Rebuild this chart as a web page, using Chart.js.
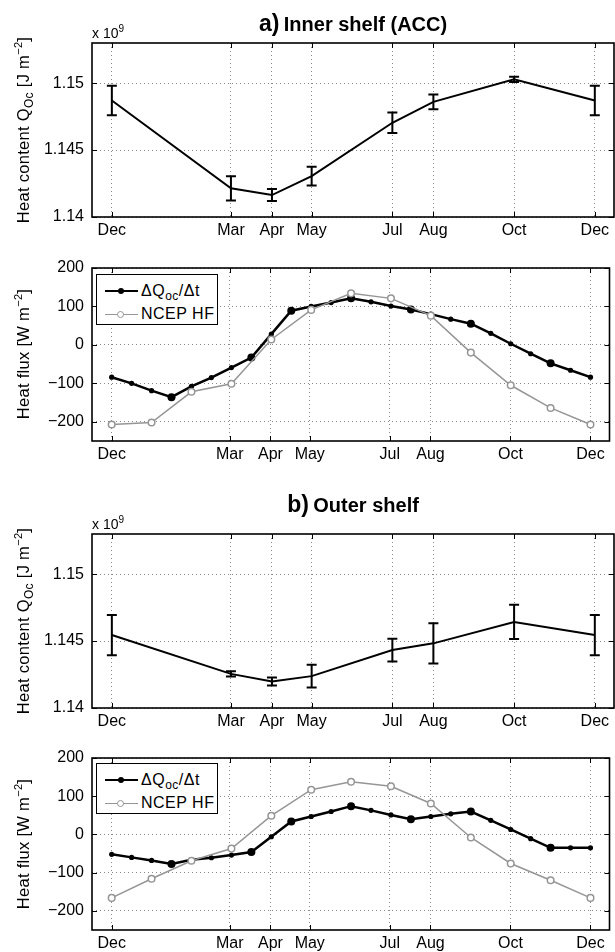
<!DOCTYPE html>
<html>
<head>
<meta charset="utf-8">
<script src="https://cdn.jsdelivr.net/npm/chart.js@4/dist/chart.umd.min.js"></script>
<style>
html,body{margin:0;padding:0;background:#fff;}
body{width:615px;height:952px;overflow:hidden;position:relative;font-family:"Liberation Sans",Arial,Helvetica,sans-serif;color:#000;}
canvas{position:absolute;left:0;}
.title{position:absolute;left:92px;width:522px;text-align:center;font-weight:bold;white-space:nowrap;line-height:26px;height:26px;}
.title .lab{font-size:23px;}
.title .txt{font-size:20px;}
.mult{position:absolute;left:92px;font-size:14px;line-height:16px;white-space:nowrap;}
.mult sup{font-size:10px;vertical-align:6px;line-height:0;}
.ytitle{position:absolute;width:300px;height:20px;line-height:20px;font-size:16.5px;text-align:center;white-space:nowrap;transform:rotate(-90deg);letter-spacing:0.3px;}
.ytitle sub{font-size:12px;vertical-align:-4px;line-height:0;}
.ytitle sup{font-size:11px;vertical-align:7px;line-height:0;}
.legend{position:absolute;width:120px;height:49px;border:1.5px solid #000;background:#fff;}
.legend .row{position:absolute;left:0;width:120px;height:20px;}
.legend .line{position:absolute;left:8px;width:33px;top:10px;height:0;}
.legend .mk{position:absolute;border-radius:50%;}
.legend .t{position:absolute;left:44px;top:0;font-size:16px;line-height:20px;white-space:nowrap;letter-spacing:0.5px;}
.legend .t sub{font-size:12px;vertical-align:-4px;line-height:0;}
</style>
</head>
<body>
<canvas id="c1"></canvas>
<canvas id="c2"></canvas>
<canvas id="c3"></canvas>
<canvas id="c4"></canvas>

<div class="title" style="top:10px;"><span class="lab">a)</span> <span class="txt">Inner shelf (ACC)</span></div>
<div class="mult" style="top:25px;">x 10<sup>9</sup></div>
<div class="ytitle" style="left:-127px;top:120px;">Heat content Q<sub>Oc</sub> [J m<sup>−2</sup>]</div>
<div class="ytitle" style="left:-127px;top:344px;">Heat flux [W m<sup>−2</sup>]</div>

<div class="title" style="top:491px;"><span class="lab">b)</span> <span class="txt">Outer shelf</span></div>
<div class="mult" style="top:516px;">x 10<sup>9</sup></div>
<div class="ytitle" style="left:-127px;top:611px;">Heat content Q<sub>Oc</sub> [J m<sup>−2</sup>]</div>
<div class="ytitle" style="left:-127px;top:834px;">Heat flux [W m<sup>−2</sup>]</div>

<div class="legend" style="left:96px;top:274px;">
  <div class="row" style="top:6px;"><div class="line" style="border-top:2.5px solid #000;top:9px;"></div><div class="mk" style="left:21px;top:7px;width:6px;height:6px;background:#000;"></div><div class="t">ΔQ<sub>oc</sub>/Δt</div></div>
  <div class="row" style="top:29px;"><div class="line" style="border-top:1.5px solid #969696;top:10px;"></div><div class="mk" style="left:20px;top:7px;width:5px;height:5px;background:#fff;border:1.5px solid #969696;"></div><div class="t">NCEP HF</div></div>
</div>
<div class="legend" style="left:96px;top:763px;">
  <div class="row" style="top:6px;"><div class="line" style="border-top:2.5px solid #000;top:9px;"></div><div class="mk" style="left:21px;top:7px;width:6px;height:6px;background:#000;"></div><div class="t">ΔQ<sub>oc</sub>/Δt</div></div>
  <div class="row" style="top:29px;"><div class="line" style="border-top:1.5px solid #969696;top:10px;"></div><div class="mk" style="left:20px;top:7px;width:5px;height:5px;background:#fff;border:1.5px solid #969696;"></div><div class="t">NCEP HF</div></div>
</div>

<script>
// ---------------- DATA ----------------
const monthLabels = ['Dec', 'Mar', 'Apr', 'May', 'Jul', 'Aug', 'Oct', 'Dec'];
const monthDays = [0, 90, 121, 151, 212, 243, 304, 365];

// Heat content (x 10^9 J m^-2) at survey months, with error bar half-widths
const heatInner = [1.1487, 1.14214, 1.14164, 1.14306, 1.14704, 1.1486, 1.15028, 1.1487];
const heatInnerErr = [0.0011, 0.0009, 0.00045, 0.0007, 0.00077, 0.00055, 0.0002, 0.0011];
const heatOuter = [1.14545, 1.14255, 1.14198, 1.14238, 1.14433, 1.14483, 1.14643, 1.14545];
const heatOuterErr = [0.0015, 0.0002, 0.0003, 0.00085, 0.00085, 0.0015, 0.00128, 0.0015];
const heatTicks = [1.14, 1.145, 1.15];

// Heat flux (W m^-2), half-monthly dQ/dt and monthly NCEP
const fluxDays = [0, 15.2, 30.4, 45.6, 60.8, 76.0, 91.3, 106.5, 121.7, 136.9, 152.1, 167.3, 182.5,
                  197.7, 212.9, 228.1, 243.3, 258.5, 273.8, 289.0, 304.2, 319.4, 334.6, 349.8, 365];
const dQInner = [-84, -100, -119, -136, -108, -85, -59, -33, 28, 89, 100, 110, 121,
                 112, 101, 92, 80, 67, 55, 30, 3, -23, -48, -66, -84];
const dQOuter = [-52, -60, -68, -77, -66, -61, -54, -46, -6, 34, 47, 60, 74,
                 63, 51, 40, 47, 54, 60, 37, 13, -11, -35, -35, -35];
const dQComputedIdx = [3, 7, 9, 12, 15, 18, 22]; // points computed between surveys
const ncepDays = [0, 30.4, 60.8, 91.3, 121.7, 152.1, 182.5, 212.9, 243.3, 273.8, 304.2, 334.6, 365];
const ncepInner = [-207, -202, -122, -101, 14, 91, 134, 121, 76, -20, -105, -164, -207];
const ncepOuter = [-166, -116, -69, -37, 49, 117, 138, 126, 81, -8, -76, -120, -166];
const fluxTicks = [-200, -100, 0, 100, 200];

// ---------------- PLUGINS ----------------
const errorBars = {
  id: 'errorBars',
  afterDatasetsDraw(chart) {
    const {ctx, scales: {x, y}} = chart;
    chart.data.datasets.forEach(ds => {
      if (!ds.errors) return;
      ctx.save();
      ctx.strokeStyle = '#000';
      ctx.lineWidth = 2;
      ds.data.forEach((p, i) => {
        const px = x.getPixelForValue(p.x);
        const yl = y.getPixelForValue(p.y - ds.errors[i]);
        const yh = y.getPixelForValue(p.y + ds.errors[i]);
        ctx.beginPath();
        ctx.moveTo(px, yl); ctx.lineTo(px, yh);
        ctx.moveTo(px - 5, yl); ctx.lineTo(px + 5, yl);
        ctx.moveTo(px - 5, yh); ctx.lineTo(px + 5, yh);
        ctx.stroke();
      });
      ctx.restore();
    });
  }
};
const boxTicks = {
  id: 'boxTicks',
  afterDraw(chart) {
    const {ctx, chartArea: a, scales: {x, y}} = chart;
    ctx.save();
    ctx.strokeStyle = '#000';
    ctx.lineWidth = 1;
    ctx.beginPath();
    x.ticks.forEach(t => {
      const px = Math.round(x.getPixelForValue(t.value)) + 0.5;
      ctx.moveTo(px, a.bottom); ctx.lineTo(px, a.bottom - 5);
      ctx.moveTo(px, a.top); ctx.lineTo(px, a.top + 5);
    });
    y.ticks.forEach(t => {
      const py = Math.round(y.getPixelForValue(t.value)) + 0.5;
      ctx.moveTo(a.left, py); ctx.lineTo(a.left + 5, py);
      ctx.moveTo(a.right, py); ctx.lineTo(a.right - 5, py);
    });
    ctx.stroke();
    ctx.lineWidth = 1.6;
    ctx.strokeRect(a.left, a.top, a.right - a.left, a.bottom - a.top);
    ctx.restore();
  }
};

// ---------------- CHART BUILDER ----------------
const tickFont = {family: '"Liberation Sans", Arial, sans-serif', size: 16};
function makeChart(id, plotTop, plotBottom, datasets, yMin, yMax, yTicks, yFmt) {
  const cv = document.getElementById(id);
  const h = Math.round(plotBottom - plotTop) + 68;
  cv.width = 615; cv.height = h;
  cv.style.top = (plotTop - 40) + 'px';
  cv.style.width = '615px'; cv.style.height = h + 'px';
  return new Chart(cv, {
    type: 'line',
    data: {datasets},
    plugins: [errorBars, boxTicks],
    options: {
      responsive: false,
      animation: false,
      devicePixelRatio: 1,
      layout: {padding: {top: 40, right: 1, left: 0, bottom: 0}},
      plugins: {legend: {display: false}, tooltip: {enabled: false}, title: {display: false}},
      scales: {
        x: {
          type: 'linear', min: -15, max: 379.5,
          afterBuildTicks: s => { s.ticks = monthDays.map(v => ({value: v})); },
          afterFit: s => { s.height = 28; },
          ticks: {autoSkip: false, maxRotation: 0, padding: 4, color: '#000', font: tickFont,
                  callback: (v, i) => monthLabels[i]},
          grid: {drawTicks: false, color: '#8a8a8a', lineWidth: 1},
          border: {display: false, dash: [1, 3]}
        },
        y: {
          type: 'linear', min: yMin, max: yMax,
          afterBuildTicks: s => { s.ticks = yTicks.map(v => ({value: v})); },
          afterFit: s => { s.width = 92; },
          ticks: {autoSkip: false, padding: 8, color: '#000', font: tickFont, callback: yFmt},
          grid: {drawTicks: false, color: '#8a8a8a', lineWidth: 1},
          border: {display: false, dash: [1, 3]}
        }
      }
    }
  });
}

const heatFmt = v => String(v);
const fluxFmt = v => (v < 0 ? '\u2212' + Math.abs(v) : String(v));

function heatDataset(vals, errs) {
  return {
    data: monthDays.map((d, i) => ({x: d, y: vals[i]})),
    errors: errs,
    borderColor: '#000', borderWidth: 2, pointRadius: 0, tension: 0, fill: false
  };
}
function fluxDatasets(dq, ncep) {
  return [
    {
      data: ncepDays.map((d, i) => ({x: d, y: ncep[i]})),
      order: 0,
      borderColor: '#969696', borderWidth: 1.5,
      pointRadius: 3.3, pointBackgroundColor: '#fff', pointBorderColor: '#969696', pointBorderWidth: 1.5,
      tension: 0, fill: false
    },
    {
      data: fluxDays.map((d, i) => ({x: d, y: dq[i]})),
      order: 1,
      borderColor: '#000', borderWidth: 2.5,
      pointRadius: c => (dQComputedIdx.includes(c.dataIndex) ? 4 : 2.6),
      pointBackgroundColor: '#000', pointBorderColor: '#000', pointBorderWidth: 0,
      tension: 0, fill: false
    }
  ];
}

makeChart('c1', 43, 217, [heatDataset(heatInner, heatInnerErr)], 1.14, 1.153, heatTicks, heatFmt);
makeChart('c2', 268, 441, fluxDatasets(dQInner, ncepInner), -250, 200, fluxTicks, fluxFmt);
makeChart('c3', 534, 708, [heatDataset(heatOuter, heatOuterErr)], 1.14, 1.153, heatTicks, heatFmt);
makeChart('c4', 758, 930, fluxDatasets(dQOuter, ncepOuter), -250, 200, fluxTicks, fluxFmt);
</script>
</body>
</html>
